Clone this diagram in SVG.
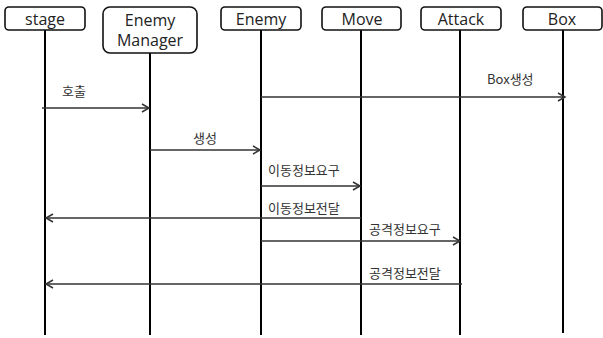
<svg xmlns="http://www.w3.org/2000/svg" width="603" height="338" viewBox="0 0 603 338">
<style>
.box{fill:#fff;stroke:#111;stroke-width:1.6}
.nt{font-family:"Open Sans","Noto Sans",sans-serif;font-size:16px;fill:#222;text-anchor:middle}
.life{stroke:#000;stroke-width:2}
.msg{stroke:#333;stroke-width:1.5;fill:none}
.lb{font-family:"Noto Sans CJK KR","Open Sans",sans-serif;font-size:13px;fill:#333}
</style>
<defs>
<marker id="ah" markerWidth="10" markerHeight="10" refX="8" refY="5" orient="auto" markerUnits="userSpaceOnUse">
<path d="M1,1 L8,5 L1,9" fill="none" stroke="#333" stroke-width="1.5"/>
</marker>
</defs>
<g id="lifelines">
<line class="life" x1="45" y1="30" x2="45" y2="335"/>
<line class="life" x1="150" y1="53" x2="150" y2="335"/>
<line class="life" x1="261" y1="30" x2="261" y2="335"/>
<line class="life" x1="361" y1="30" x2="361" y2="335"/>
<line class="life" x1="460" y1="30" x2="460" y2="335"/>
<line class="life" x1="563" y1="30" x2="563" y2="333"/>
</g>
<g id="stage"><rect class="box" x="5" y="7" width="80" height="23" rx="4"/><text class="nt" x="45" y="25">stage</text></g>
<g id="enemymanager"><rect class="box" x="103" y="7" width="94" height="46" rx="7"/><text class="nt" x="150" y="26">Enemy</text><text class="nt" x="150" y="46">Manager</text></g>
<g id="enemy"><rect class="box" x="221" y="7" width="80" height="23" rx="4"/><text class="nt" x="261" y="25">Enemy</text></g>
<g id="move"><rect class="box" x="322" y="7" width="79" height="23" rx="4"/><text class="nt" x="362" y="25">Move</text></g>
<g id="attack"><rect class="box" x="421" y="7" width="80" height="23" rx="4"/><text class="nt" x="461" y="25">Attack</text></g>
<g id="box"><rect class="box" x="523" y="7" width="79" height="23" rx="4"/><text class="nt" x="562" y="25">Box</text></g>
<g id="connectors">
<line class="msg" x1="42" y1="108" x2="149" y2="108" marker-end="url(#ah)"/>
<line class="msg" x1="261" y1="97" x2="565" y2="97" marker-end="url(#ah)"/>
<line class="msg" x1="150" y1="150" x2="260" y2="150" marker-end="url(#ah)"/>
<line class="msg" x1="261" y1="186" x2="360" y2="186" marker-end="url(#ah)"/>
<line class="msg" x1="361" y1="218" x2="46" y2="218" marker-end="url(#ah)"/>
<line class="msg" x1="261" y1="241" x2="460" y2="241" marker-end="url(#ah)"/>
<line class="msg" x1="462" y1="284" x2="46" y2="284" marker-end="url(#ah)"/>
</g>
<g id="labels">
<text class="lb" x="62" y="96">호출</text>
<text class="lb" x="487" y="84">Box생성</text>
<text class="lb" x="193" y="143">생성</text>
<text class="lb" x="268" y="175">이동정보요구</text>
<text class="lb" x="268" y="213">이동정보전달</text>
<text class="lb" x="369" y="234">공격정보요구</text>
<text class="lb" x="369" y="278">공격정보전달</text>
</g>
</svg>
